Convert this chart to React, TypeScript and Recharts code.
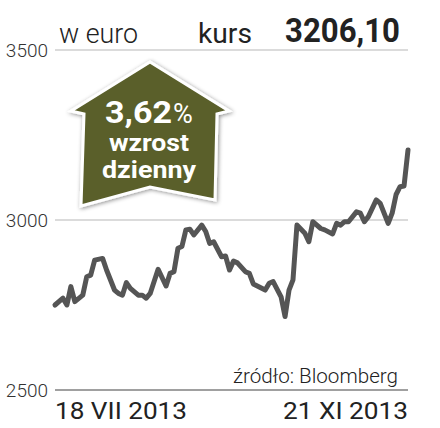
import { LineChart, Line, XAxis, YAxis, CartesianGrid } from 'recharts'

// trading day index since 18 VII 2013 and closing value (EUR)
const days = [
  0, 2, 3, 4, 5, 7, 8, 9, 10, 12, 13, 15, 16, 17, 18, 19, 21, 22, 23, 24, 26, 28, 29, 30, 31, 32,
  33, 34, 35, 37, 38, 39, 40, 42, 43, 44, 45, 46, 48, 49, 50, 51, 53, 54, 55, 57, 58, 59, 60, 61,
  63, 64, 65, 67, 68, 70, 71, 72, 73, 74, 76, 77, 78, 79, 81, 82, 84, 85, 86, 87, 88, 89,
]
const closes = [
  2750, 2770, 2750, 2804, 2760, 2779, 2833, 2838, 2882, 2887, 2853, 2794, 2784, 2779, 2816, 2799,
  2779, 2779, 2770, 2784, 2855, 2806, 2843, 2848, 2917, 2922, 2971, 2973, 2956, 2985, 2966, 2931,
  2936, 2892, 2894, 2853, 2879, 2874, 2848, 2843, 2812, 2806, 2794, 2814, 2819, 2774, 2716, 2794,
  2824, 2985, 2961, 2936, 2995, 2975, 2971, 2959, 2990, 2985, 2995, 2995, 3024, 3020, 2995, 3010,
  3059, 3049, 2990, 3020, 3075, 3098, 3100, 3206,
]
const yTicks = [2500, 3000, 3500]
const xTicks = [0, 89]
const xTickLabels = ['18 VII 2013', '21 XI 2013']

const lastValue = '3206,10'
const dailyChange = '3,62'

const data = days.map((d, i) => ({ day: d, value: closes[i] }))

const font = 'Roboto, "Liberation Sans", sans-serif'

const DateTick = (props: any) => {
  const { x, y, payload, index } = props
  const first = index === 0
  return (
    <text
      x={x}
      y={y + 27}
      textAnchor={first ? 'start' : 'end'}
      fontSize={24}
      fontFamily={font}
      fill="#222"
      textLength={first ? 132 : 125}
      lengthAdjust="spacingAndGlyphs"
    >
      {xTickLabels[xTicks.indexOf(payload.value)]}
    </text>
  )
}

export default function App() {
  return (
    <div style={{ position: 'absolute', left: 0, top: 0, width: 440, height: 428, background: '#fff' }}>
      <LineChart
        width={440}
        height={428}
        data={data}
        margin={{ top: 50, right: 32, left: 0, bottom: 0 }}
      >
        <CartesianGrid vertical={false} stroke="#b8b8b8" strokeWidth={1.2} />
        <XAxis
          dataKey="day"
          type="number"
          domain={[0, 89]}
          ticks={xTicks}
          tick={<DateTick />}
          tickLine={false}
          tickSize={0}
          axisLine={{ stroke: '#8c8c8c', strokeWidth: 1.5 }}
          height={38}
        />
        <YAxis
          domain={[2500, 3500]}
          ticks={yTicks}
          width={55}
          tickLine={false}
          axisLine={false}
          tickSize={0}
          tickMargin={7}
          tick={{ fontSize: 19, fill: '#333', fontFamily: font, fontWeight: 300 }}
        />
        <Line
          dataKey="value"
          stroke="#555"
          strokeWidth={5}
          strokeLinejoin="round"
          strokeLinecap="round"
          dot={false}
          isAnimationActive={false}
        />
      </LineChart>
      <svg
        width={440}
        height={428}
        style={{ position: 'absolute', left: 0, top: 0, pointerEvents: 'none' }}
      >
        <defs>
          <filter id="sh" x="-20%" y="-20%" width="140%" height="140%">
            <feDropShadow dx="1" dy="1" stdDeviation="2" floodColor="#000" floodOpacity="0.45" />
          </filter>
        </defs>
        <text x={59} y={43} fontSize={27} fontWeight={300} fontFamily={font} fill="#222" textLength={79} lengthAdjust="spacingAndGlyphs">
          w euro
        </text>
        <text x={198} y={43} fontSize={27} fontFamily={font} fill="#222" textLength={54} lengthAdjust="spacingAndGlyphs">
          kurs
        </text>
        <text x={285} y={42} fontSize={33} fontWeight={700} fontFamily={font} fill="#222" textLength={115} lengthAdjust="spacingAndGlyphs">
          {lastValue}
        </text>
        <text x={233} y={383} fontSize={20} fontWeight={300} fontFamily={font} fill="#222" textLength={165} lengthAdjust="spacingAndGlyphs">
          źródło: Bloomberg
        </text>
        <path
          d="M150,62 L229,111 L217,114 L215,200 L150,187 L81,206 L84,114 L71,111 Z"
          fill="#5a5f2b"
          stroke="#fff"
          strokeWidth={3}
          strokeLinejoin="miter"
          filter="url(#sh)"
        />
        <text x={105} y={123} fontSize={32} fontWeight={700} fontFamily={font} fill="#fff" textLength={67} lengthAdjust="spacingAndGlyphs">
          {dailyChange}
        </text>
        <text x={173} y={123} fontSize={27} fontWeight={400} fontFamily={font} fill="#fff">
          %
        </text>
        <text x={149} y={151} textAnchor="middle" fontSize={24} fontWeight={700} fontFamily={font} fill="#fff" textLength={80} lengthAdjust="spacingAndGlyphs">
          wzrost
        </text>
        <text x={149} y={178} textAnchor="middle" fontSize={24} fontWeight={700} fontFamily={font} fill="#fff" textLength={94} lengthAdjust="spacingAndGlyphs">
          dzienny
        </text>
      </svg>
    </div>
  )
}
